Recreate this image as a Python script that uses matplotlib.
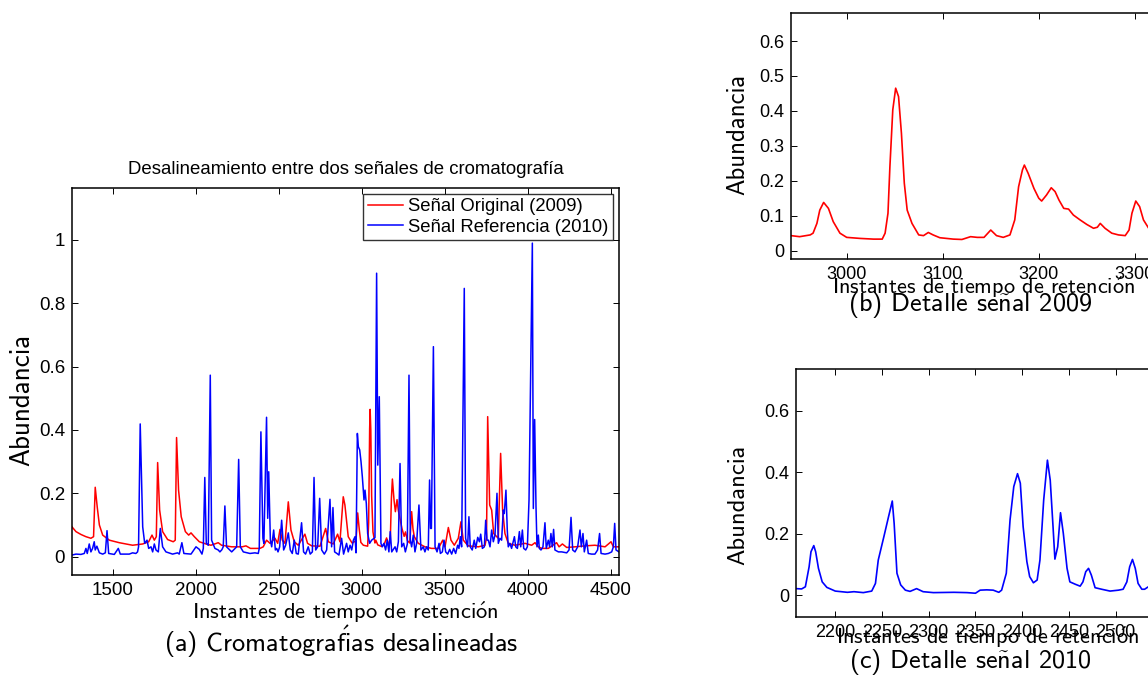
import matplotlib
matplotlib.use('Agg')
import matplotlib.pyplot as plt

# --- main panel: raw signals (retention time, abundance) ---
red_x = [1255, 1279, 1309, 1339, 1369, 1385, 1395, 1407, 1420, 1440, 1480, 1540, 1620, 1681, 1717,
         1737, 1751, 1763, 1771, 1783, 1801, 1831, 1865, 1877, 1885, 1897, 1913, 1938, 1958, 1972,
         1992, 2022, 2062, 2092, 2136, 2156, 2217, 2280, 2303, 2330, 2387, 2407, 2427, 2448, 2478,
         2494, 2508, 2522, 2538, 2558, 2574, 2594, 2618, 2658, 2674, 2699, 2749, 2783, 2799, 2829,
         2855, 2869, 2889, 2899, 2919, 2942, 2966, 2976, 2986, 2995, 3010, 3036, 3042, 3048, 3051,
         3055, 3060, 3068, 3080, 3085, 3097, 3120, 3135, 3150, 3163, 3172, 3179, 3185, 3195, 3203,
         3213, 3221, 3231, 3243, 3256, 3264, 3276, 3290, 3297, 3301, 3309, 3317, 3341, 3381, 3421,
         3462, 3488, 3502, 3522, 3538, 3558, 3582, 3598, 3612, 3642, 3703, 3743, 3752, 3759, 3771,
         3783, 3795, 3823, 3837, 3849, 3863, 3883, 3923, 3984, 4024, 4044, 4064, 4084, 4124, 4174,
         4189, 4209, 4235, 4285, 4345, 4405, 4466, 4502, 4516, 4550]
red_y = [0.094, 0.079, 0.070, 0.063, 0.058, 0.063, 0.219, 0.157, 0.100, 0.068, 0.052, 0.044, 0.036, 0.040, 0.047,
         0.068, 0.052, 0.063, 0.297, 0.147, 0.079, 0.054, 0.047, 0.052, 0.376, 0.210, 0.126, 0.079, 0.068, 0.075,
         0.063, 0.047, 0.040, 0.036, 0.044, 0.036, 0.031, 0.031, 0.034, 0.026, 0.026, 0.031, 0.052, 0.042, 0.058,
         0.042, 0.086, 0.052, 0.042, 0.173, 0.084, 0.047, 0.036, 0.071, 0.042, 0.034, 0.033, 0.089, 0.047, 0.040,
         0.071, 0.047, 0.189, 0.163, 0.063, 0.043, 0.050, 0.138, 0.083, 0.045, 0.036, 0.033, 0.107, 0.403, 0.465,
         0.400, 0.193, 0.078, 0.043, 0.052, 0.037, 0.032, 0.038, 0.059, 0.038, 0.045, 0.183, 0.245, 0.178, 0.142,
         0.180, 0.145, 0.119, 0.088, 0.064, 0.078, 0.050, 0.043, 0.107, 0.142, 0.088, 0.063, 0.042, 0.031, 0.026,
         0.026, 0.052, 0.031, 0.092, 0.052, 0.036, 0.058, 0.110, 0.052, 0.034, 0.031, 0.036, 0.060, 0.442, 0.163,
         0.147, 0.073, 0.058, 0.326, 0.147, 0.073, 0.042, 0.036, 0.042, 0.036, 0.044, 0.031, 0.026, 0.026, 0.044,
         0.031, 0.040, 0.029, 0.031, 0.034, 0.036, 0.031, 0.047, 0.031, 0.031]

blue_x = [1255, 1279, 1309, 1329, 1339, 1347, 1359, 1369, 1379, 1389, 1395, 1405, 1420, 1440, 1456,
          1466, 1476, 1510, 1534, 1546, 1600, 1620, 1640, 1650, 1656, 1666, 1681, 1693, 1707, 1717,
          1731, 1741, 1751, 1761, 1775, 1787, 1801, 1821, 1861, 1891, 1901, 1917, 1929, 1972, 2002,
          2022, 2038, 2046, 2055, 2064, 2076, 2088, 2096, 2116, 2136, 2146, 2158, 2166, 2176, 2186,
          2217, 2247, 2259, 2269, 2287, 2327, 2357, 2377, 2383, 2393, 2405, 2411, 2427, 2434, 2440,
          2450, 2458, 2470, 2480, 2488, 2496, 2506, 2518, 2530, 2542, 2558, 2570, 2582, 2594, 2606,
          2618, 2638, 2650, 2662, 2678, 2690, 2703, 2713, 2723, 2735, 2747, 2759, 2775, 2789, 2809,
          2819, 2827, 2837, 2851, 2863, 2879, 2891, 2903, 2909, 2919, 2930, 2940, 2950, 2960, 2966,
          2974, 2980, 2988, 2996, 3004, 3014, 3020, 3028, 3036, 3048, 3060, 3080, 3090, 3097, 3106,
          3116, 3124, 3134, 3144, 3154, 3164, 3172, 3181, 3201, 3211, 3221, 3231, 3241, 3253, 3263,
          3275, 3285, 3293, 3301, 3311, 3321, 3331, 3345, 3357, 3371, 3381, 3391, 3401, 3409, 3415,
          3420, 3432, 3442, 3454, 3466, 3474, 3486, 3496, 3506, 3518, 3530, 3542, 3554, 3566, 3578,
          3586, 3594, 3602, 3618, 3626, 3638, 3646, 3654, 3666, 3678, 3687, 3699, 3709, 3717, 3727,
          3739, 3747, 3755, 3763, 3773, 3783, 3793, 3803, 3815, 3823, 3833, 3843, 3853, 3859, 3869,
          3877, 3883, 3893, 3903, 3911, 3920, 3928, 3938, 3950, 3958, 3968, 3976, 3988, 3998, 4008,
          4028, 4034, 4042, 4050, 4056, 4064, 4070, 4080, 4092, 4104, 4112, 4124, 4132, 4140, 4148,
          4156, 4164, 4185, 4205, 4235, 4249, 4261, 4271, 4285, 4301, 4315, 4323, 4333, 4341, 4355,
          4365, 4385, 4405, 4421, 4433, 4442, 4466, 4486, 4506, 4516, 4524, 4532, 4550]
blue_y = [0.005, 0.008, 0.007, 0.010, 0.026, 0.010, 0.040, 0.015, 0.026, 0.047, 0.021, 0.033, 0.012, 0.008, 0.012,
          0.082, 0.010, 0.007, 0.026, 0.008, 0.008, 0.012, 0.010, 0.015, 0.031, 0.419, 0.094, 0.042, 0.052, 0.026,
          0.031, 0.015, 0.040, 0.021, 0.015, 0.089, 0.031, 0.015, 0.008, 0.012, 0.008, 0.044, 0.010, 0.008, 0.031,
          0.023, 0.008, 0.026, 0.250, 0.042, 0.036, 0.573, 0.052, 0.026, 0.021, 0.015, 0.022, 0.031, 0.160, 0.031,
          0.015, 0.031, 0.307, 0.031, 0.015, 0.010, 0.012, 0.010, 0.026, 0.394, 0.058, 0.042, 0.440, 0.121, 0.268,
          0.052, 0.031, 0.084, 0.021, 0.026, 0.015, 0.031, 0.115, 0.021, 0.036, 0.075, 0.021, 0.010, 0.052, 0.010,
          0.008, 0.107, 0.015, 0.008, 0.031, 0.008, 0.015, 0.250, 0.021, 0.031, 0.184, 0.021, 0.008, 0.021, 0.181,
          0.031, 0.155, 0.015, 0.010, 0.005, 0.058, 0.008, 0.031, 0.042, 0.015, 0.036, 0.021, 0.052, 0.063, 0.012,
          0.389, 0.347, 0.337, 0.300, 0.252, 0.179, 0.210, 0.168, 0.073, 0.042, 0.052, 0.060, 0.895, 0.289, 0.505,
          0.042, 0.031, 0.042, 0.021, 0.052, 0.015, 0.079, 0.015, 0.031, 0.015, 0.047, 0.294, 0.031, 0.042, 0.015,
          0.040, 0.573, 0.052, 0.031, 0.068, 0.015, 0.042, 0.163, 0.021, 0.031, 0.015, 0.031, 0.021, 0.242, 0.089,
          0.089, 0.663, 0.031, 0.015, 0.042, 0.010, 0.015, 0.052, 0.015, 0.008, 0.023, 0.008, 0.026, 0.010, 0.036,
          0.026, 0.063, 0.031, 0.847, 0.058, 0.031, 0.126, 0.031, 0.021, 0.052, 0.026, 0.061, 0.047, 0.071, 0.026,
          0.031, 0.115, 0.052, 0.052, 0.031, 0.084, 0.047, 0.068, 0.200, 0.042, 0.058, 0.052, 0.147, 0.136, 0.210,
          0.084, 0.031, 0.042, 0.026, 0.044, 0.063, 0.031, 0.026, 0.079, 0.031, 0.084, 0.026, 0.021, 0.031, 0.179,
          0.990, 0.152, 0.433, 0.158, 0.031, 0.068, 0.026, 0.021, 0.031, 0.107, 0.026, 0.052, 0.031, 0.073, 0.031,
          0.086, 0.021, 0.015, 0.015, 0.012, 0.021, 0.124, 0.021, 0.015, 0.031, 0.084, 0.031, 0.073, 0.015, 0.052,
          0.010, 0.008, 0.008, 0.021, 0.073, 0.010, 0.008, 0.010, 0.015, 0.031, 0.105, 0.021, 0.015]

# --- detail (b): 2009 signal around 3000-3300 ---
det09_x = [2942, 2951, 2962, 2965, 2969, 2972, 2976, 2981, 2986, 2993, 3000, 3014, 3028, 3037, 3040,
           3043, 3045, 3048, 3051, 3054, 3057, 3060, 3063, 3068, 3075, 3080, 3085, 3090, 3097, 3111,
           3120, 3129, 3136, 3143, 3150, 3156, 3163, 3170, 3175, 3179, 3183, 3185, 3189, 3195, 3200,
           3203, 3208, 3213, 3217, 3221, 3226, 3231, 3236, 3243, 3250, 3257, 3261, 3264, 3269, 3276,
           3283, 3290, 3294, 3297, 3301, 3305, 3309, 3314]
det09_y = [0.043, 0.040, 0.045, 0.050, 0.078, 0.116, 0.138, 0.121, 0.083, 0.050, 0.038, 0.035, 0.033, 0.033, 0.050,
           0.107, 0.240, 0.403, 0.465, 0.441, 0.336, 0.193, 0.116, 0.078, 0.045, 0.043, 0.052, 0.045, 0.037, 0.033,
           0.032, 0.040, 0.038, 0.038, 0.059, 0.043, 0.038, 0.045, 0.088, 0.183, 0.231, 0.245, 0.221, 0.178, 0.150,
           0.142, 0.159, 0.180, 0.169, 0.145, 0.121, 0.119, 0.102, 0.088, 0.075, 0.064, 0.067, 0.078, 0.064, 0.050,
           0.045, 0.043, 0.059, 0.107, 0.142, 0.126, 0.088, 0.066]

# --- detail (c): 2010 signal around 2150-2530 ---
det10_x = [2158, 2164, 2168, 2172, 2174, 2177, 2179, 2182, 2186, 2191, 2200, 2213, 2220, 2230, 2239,
           2243, 2246, 2252, 2257, 2261, 2263, 2266, 2270, 2275, 2280, 2287, 2294, 2305, 2327, 2341,
           2350, 2355, 2362, 2369, 2375, 2378, 2383, 2387, 2391, 2395, 2398, 2401, 2405, 2408, 2412,
           2416, 2419, 2423, 2427, 2430, 2433, 2435, 2438, 2441, 2444, 2448, 2451, 2457, 2462, 2465,
           2468, 2471, 2474, 2478, 2485, 2494, 2503, 2508, 2512, 2515, 2518, 2521, 2524, 2528, 2531,
           2535]
det10_y = [0.022, 0.021, 0.028, 0.093, 0.142, 0.162, 0.142, 0.088, 0.044, 0.026, 0.014, 0.010, 0.012, 0.009, 0.014,
           0.039, 0.115, 0.191, 0.256, 0.307, 0.234, 0.072, 0.034, 0.017, 0.013, 0.022, 0.012, 0.009, 0.010, 0.009,
           0.007, 0.017, 0.018, 0.017, 0.010, 0.017, 0.072, 0.245, 0.354, 0.396, 0.365, 0.224, 0.110, 0.061, 0.041,
           0.050, 0.115, 0.310, 0.440, 0.375, 0.224, 0.118, 0.158, 0.269, 0.202, 0.088, 0.044, 0.036, 0.030, 0.044,
           0.077, 0.088, 0.066, 0.025, 0.020, 0.014, 0.017, 0.020, 0.044, 0.093, 0.117, 0.088, 0.039, 0.020, 0.020,
           0.028]

HELV = ['Liberation Sans', 'DejaVu Sans']
CMSS = ['cmss10', 'DejaVu Sans']

plt.rcParams['font.family'] = HELV
plt.rcParams['axes.unicode_minus'] = False
plt.rcParams['mathtext.fontset'] = 'cm'

# accented letters for the LaTeX-style (CM sans) labels
O_ACUTE = r"$\mathsf{\'o}$"
I_ACUTE = r"$\mathsf{\'i}$"
N_TILDE = r"$\mathsf{\~n}$"

xlab = 'Instantes de tiempo de retenci' + O_ACUTE + 'n'


def style_axes(ax, fs):
    ax.tick_params(direction='in', length=4, width=0.7, top=True, right=True, labelsize=fs, pad=5)
    for s in ax.spines.values():
        s.set_linewidth(1.1)


fig = plt.figure(figsize=(11.48, 6.76), dpi=100)

# main panel
ax = fig.add_axes([0.0627, 0.1494, 0.4765, 0.5725])
ax.plot(red_x, red_y, color='#ff0000', lw=1.1, label='Señal Original (2009)')
ax.plot(blue_x, blue_y, color='#0000ff', lw=1.1, label='Señal Referencia (2010)')
ax.set_xlim(1255, 4550)
ax.set_ylim(-0.058, 1.164)
ax.set_xticks([1500, 2000, 2500, 3000, 3500, 4000, 4500])
ax.set_yticks([0, 0.2, 0.4, 0.6, 0.8, 1])
ax.set_yticklabels(['0', '0.2', '0.4', '0.6', '0.8', '1'])
style_axes(ax, 13.5)
ax.set_title('Desalineamiento entre dos señales de cromatografía', fontsize=13.4, pad=10)
leg = ax.legend(loc='upper right', fontsize=13.3, frameon=True, fancybox=False,
                borderaxespad=0.3, handlelength=1.9, handletextpad=0.3,
                borderpad=0.25, labelspacing=0.2)
leg.get_frame().set_edgecolor('black')
leg.get_frame().set_linewidth(1.0)

# detail 2009
axb = fig.add_axes([0.689, 0.6164, 0.338, 0.3648])
axb.plot(det09_x, det09_y, color='#ff0000', lw=1.2)
axb.set_xlim(2942, 3346)
axb.set_ylim(-0.0248, 0.681)
axb.set_xticks([3000, 3100, 3200, 3300])
axb.set_yticks([0, 0.1, 0.2, 0.3, 0.4, 0.5, 0.6])
axb.set_yticklabels(['0', '0.1', '0.2', '0.3', '0.4', '0.5', '0.6'])
style_axes(axb, 13)

# detail 2010
axc = fig.add_axes([0.6934, 0.0877, 0.3354, 0.366])
axc.plot(det10_x, det10_y, color='#0000ff', lw=1.2)
axc.set_xlim(2158, 2570)
axc.set_ylim(-0.0694, 0.7356)
axc.set_xticks([2200, 2250, 2300, 2350, 2400, 2450, 2500])
axc.set_yticks([0, 0.2, 0.4, 0.6])
axc.set_yticklabels(['0', '0.2', '0.4', '0.6'])
style_axes(axc, 13)

W, H = 1148.0, 676.0


def ftext(x, y, s, size, rot=0):
    fig.text(x / W, 1 - y / H, s, ha='center', va='center', fontsize=size,
             family=CMSS, rotation=rot)


ftext(22, 400, 'Abundancia', 19.5, rot=90)
ftext(345, 612, xlab, 16.2)
ftext(341, 642, '(a) Cromatograf' + I_ACUTE + 'as desalineadas', 19)

ftext(738, 134, 'Abundancia', 17.8, rot=90)
ftext(984, 287, xlab, 16)
ftext(970, 305, '(b) Detalle se' + N_TILDE + 'al 2009', 18.9)

ftext(738, 505, 'Abundancia', 17.7, rot=90)
ftext(988, 637, xlab, 16)
ftext(970, 662, '(c) Detalle se' + N_TILDE + 'al 2010', 18.9)

fig.savefig('out.png', dpi=100)
